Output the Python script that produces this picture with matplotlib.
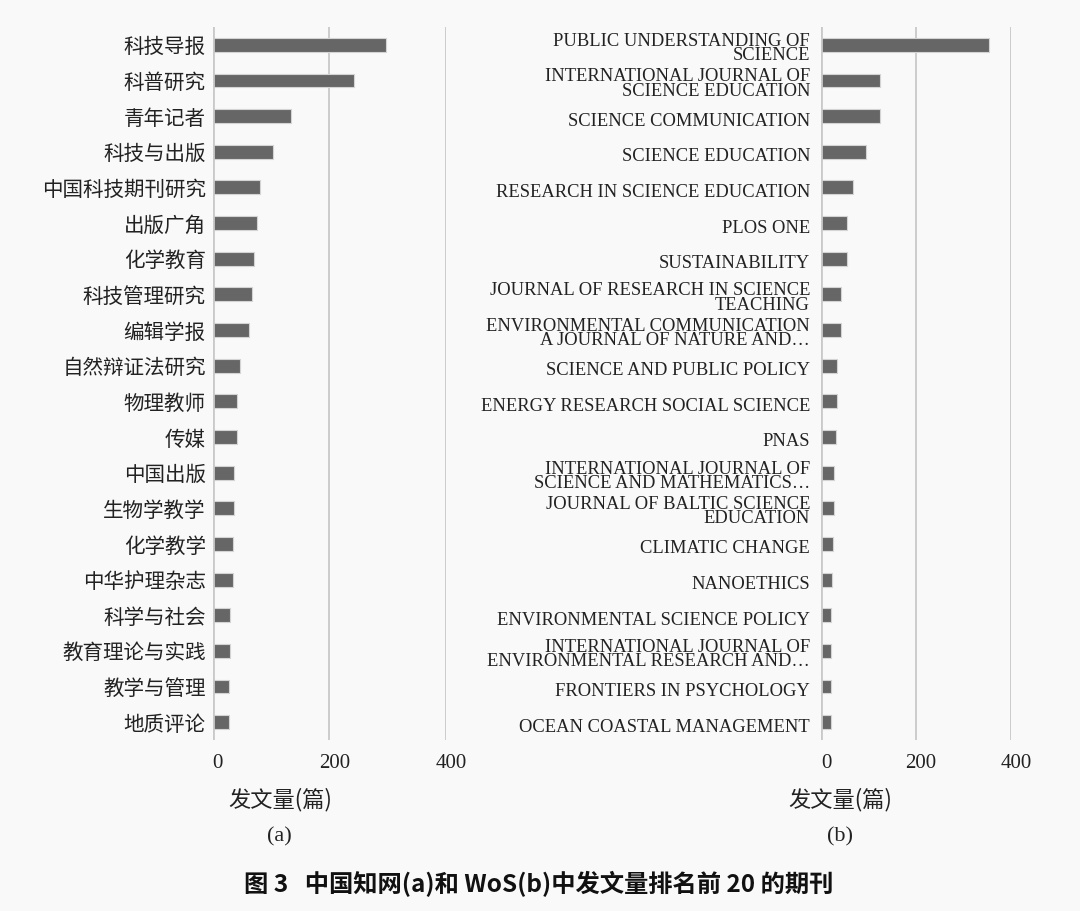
import matplotlib
matplotlib.use("Agg")
import matplotlib.pyplot as plt
import matplotlib.transforms as mtransforms
import numpy as np

plt.rcParams['font.family'] = ['Liberation Serif', 'Noto Sans CJK SC', 'DejaVu Sans']

cnki_journals = ["科技导报", "科普研究", "青年记者", "科技与出版", "中国科技期刊研究",
                 "出版广角", "化学教育", "科技管理研究", "编辑学报", "自然辩证法研究",
                 "物理教师", "传媒", "中国出版", "生物学教学", "化学教学",
                 "中华护理杂志", "科学与社会", "教育理论与实践", "教学与管理", "地质评论"]
cnki_counts = [297, 243, 134, 104, 81, 76, 70, 67, 63, 47,
               42, 42, 36, 36, 35, 35, 30, 29, 28, 28]

wos_journals = ["PUBLIC UNDERSTANDING OF\nSCIENCE",
                "INTERNATIONAL JOURNAL OF\nSCIENCE EDUCATION",
                "SCIENCE COMMUNICATION",
                "SCIENCE EDUCATION",
                "RESEARCH IN SCIENCE EDUCATION",
                "PLOS ONE",
                "SUSTAINABILITY",
                "JOURNAL OF RESEARCH IN SCIENCE\nTEACHING",
                "ENVIRONMENTAL COMMUNICATION\nA JOURNAL OF NATURE AND…",
                "SCIENCE AND PUBLIC POLICY",
                "ENERGY RESEARCH SOCIAL SCIENCE",
                "PNAS",
                "INTERNATIONAL JOURNAL OF\nSCIENCE AND MATHEMATICS…",
                "JOURNAL OF BALTIC SCIENCE\nEDUCATION",
                "CLIMATIC CHANGE",
                "NANOETHICS",
                "ENVIRONMENTAL SCIENCE POLICY",
                "INTERNATIONAL JOURNAL OF\nENVIRONMENTAL RESEARCH AND…",
                "FRONTIERS IN PSYCHOLOGY",
                "OCEAN COASTAL MANAGEMENT"]
wos_counts = [354, 125, 123, 95, 67, 55, 54, 43, 42, 34,
              33, 32, 28, 27, 25, 24, 22, 22, 21, 21]

x_ticks = [0, 200, 400]
x_label = "发文量(篇)"
caption = "图 3   中国知网(a)和 WoS(b)中发文量排名前 20 的期刊"

BG = "#f9f9f9"
BAR = "#666666"
GRID = "#c9c9c9"
W, H = 1080, 911

fig = plt.figure(figsize=(W / 100, H / 100), dpi=100, facecolor=BG)

def make_ax(left_px, right_px, labels, counts, label_font, label_size, pad_px, dy_px, linesp):
    bottom = 1 - 740 / H
    top = 1 - 27 / H
    ax = fig.add_axes([left_px / W, bottom, (right_px - left_px) / W, top - bottom])
    ax.set_facecolor(BG)
    y = np.arange(len(labels))
    ax.barh(y, counts, height=0.39, color=BAR, edgecolor="#d4d4d4", linewidth=0.8, zorder=3)
    ax.set_ylim(len(labels) - 0.5, -0.5)
    ax.set_xlim(0, 400)
    ax.set_xticks(x_ticks)
    ax.set_xticklabels([])
    # tick labels drawn slightly right of the gridlines, as in the reference
    xtrans = mtransforms.blended_transform_factory(ax.transData, ax.transAxes) + \
        mtransforms.ScaledTranslation(5 / 100, -23 / 100, fig.dpi_scale_trans)
    for t in x_ticks:
        ax.text(t, 0, str(t), transform=xtrans, ha='center', va='center',
                fontsize=15, color="#222222", family=['Liberation Serif'], clip_on=False)
    ax.set_yticks(y)
    ax.set_yticklabels([])
    ytrans = mtransforms.blended_transform_factory(ax.transAxes, ax.transData) + \
        mtransforms.ScaledTranslation(-pad_px / 100, -dy_px / 100, fig.dpi_scale_trans)
    for yi, lab in zip(y, labels):
        ax.text(0, yi, lab, transform=ytrans, ha='right', va='center_baseline',
                multialignment='right', fontsize=label_size, color="#222222",
                family=label_font, linespacing=linesp, clip_on=False)
    ax.tick_params(axis='both', length=0)
    for s in ax.spines.values():
        s.set_visible(False)
    ax.grid(axis='x', color=GRID, linewidth=1.3, zorder=0)
    ax.axvline(0, color=GRID, linewidth=2.0, zorder=4)
    return ax

ax1 = make_ax(212.7, 446, cnki_journals, cnki_counts,
              ['Noto Sans CJK SC', 'DejaVu Sans'], 14.8, 7, 0, 1.0)
ax2 = make_ax(821, 1011.3, wos_journals, wos_counts,
              ['Liberation Serif', 'DejaVu Sans'], 13.3, 11, 3, 0.78)

fig.text(280 / W, 1 - 800 / H, x_label, ha='center', va='center', fontsize=16,
         family=['Noto Sans CJK SC'], color="#222222")
fig.text(840 / W, 1 - 800 / H, x_label, ha='center', va='center', fontsize=16,
         family=['Noto Sans CJK SC'], color="#222222")
fig.text(279 / W, 1 - 837 / H, "(a)", ha='center', va='center', fontsize=16,
         family=['Liberation Serif'], color="#222222")
fig.text(840 / W, 1 - 837 / H, "(b)", ha='center', va='center', fontsize=16,
         family=['Liberation Serif'], color="#222222")
fig.text(539 / W, 1 - 884 / H, caption, ha='center', va='center', fontsize=17.5,
         fontweight='bold', family=['Noto Sans CJK SC', 'DejaVu Sans'], color="#111111")

fig.savefig("out.png", dpi=100, facecolor=BG)
